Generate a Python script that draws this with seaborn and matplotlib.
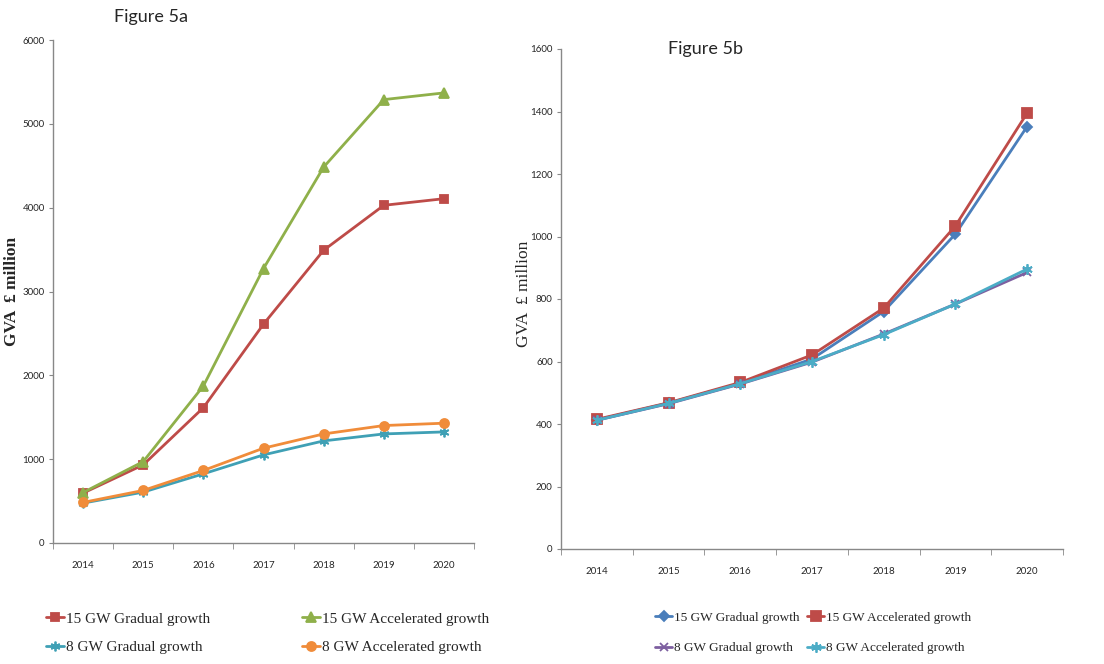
import matplotlib
matplotlib.use("Agg")
import matplotlib.pyplot as plt
import seaborn as sns
import pandas as pd
from matplotlib.ticker import FixedLocator

years = [2014, 2015, 2016, 2017, 2018, 2019, 2020]

# Figure 5a
a_names = ["15 GW Gradual growth", "15 GW Accelerated growth",
           "8 GW Gradual growth", "8 GW Accelerated growth"]
a_15_gradual = [595, 932, 1614, 2611, 3492, 4028, 4107]
a_15_accel = [602, 971, 1873, 3274, 4484, 5289, 5369]
a_8_gradual = [476, 607, 825, 1051, 1218, 1301, 1325]
a_8_accel = [484, 627, 865, 1131, 1301, 1401, 1429]

# Figure 5b
b_names = ["15 GW Gradual growth", "15 GW Accelerated growth",
           "8 GW Gradual growth", "8 GW Accelerated growth"]
b_15_gradual = [413, 467, 530, 608, 760, 1008, 1352]
b_15_accel = [415, 468, 533, 621, 771, 1034, 1395]
b_8_gradual = [412, 465, 528, 598, 688, 784, 885]
b_8_accel = [412, 466, 529, 600, 686, 784, 896]

a_ticks = [0, 1000, 2000, 3000, 4000, 5000, 6000]
b_ticks = [0, 200, 400, 600, 800, 1000, 1200, 1400, 1600]

sns.set_style("white")
plt.rcParams["font.family"] = ["Lato", "DejaVu Sans"]

fig = plt.figure(figsize=(11.04, 6.64), dpi=100)
ax_a = fig.add_axes([53/1104, 121/664, 421/1104, 503/664])
ax_b = fig.add_axes([561/1104, 115/664, 502/1104, 500/664])

star = (6, 2, 0)
cols_a = ["#BE4B48", "#8FB04A", "#3FA0B5", "#F08C3A"]
mks_a = ["s", "^", star, "o"]
ms_a = [6, 7.5, 7, 6.5]
cols_b = ["#4A7EBB", "#BE4B48", "#7D5FA0", "#4BACC6"]
mks_b = ["D", "s", "x", star]
ms_b = [5, 6.5, 6, 7.5]

serif = ["Liberation Serif", "DejaVu Serif"]

def draw(ax, names, series, cols, mks, ms, ticks, ymax, label_weight):
    for n, vals, c, m, s in zip(names, series, cols, mks, ms):
        df = pd.DataFrame({"year": years, "value": vals})
        sns.lineplot(data=df, x="year", y="value", color=c, marker=m,
                     markersize=s, markeredgecolor=c, markerfacecolor=c,
                     markeredgewidth=1.3, linewidth=2.0, ax=ax, label=n)
    ax.set_xlim(2013.5, 2020.5)
    ax.set_ylim(0, ymax)
    ax.set_xticks(years)
    ax.set_xticklabels([str(y) for y in years], fontsize=7)
    ax.xaxis.set_minor_locator(FixedLocator([y - 0.5 for y in years] + [2020.5]))
    ax.tick_params(axis="x", which="major", length=0, pad=13)
    ax.tick_params(axis="x", which="minor", length=4, color="#888888", direction="out")
    ax.set_yticks(ticks)
    ax.set_yticklabels([str(t) for t in ticks], fontsize=7)
    ax.tick_params(axis="y", length=3, color="#888888", direction="out", pad=3)
    ax.tick_params(bottom=True, left=True, which="both")
    for s in ["top", "right"]:
        ax.spines[s].set_visible(False)
    for s in ["left", "bottom"]:
        ax.spines[s].set_color("#888888")
        ax.spines[s].set_linewidth(1.0)
    ax.set_xlabel("")
    ax.set_ylabel("GVA  £ million", family=serif,
                  fontweight=label_weight, fontsize=12.5)
    handles, labels = ax.get_legend_handles_labels()
    if ax.get_legend() is not None:
        ax.get_legend().remove()
    return handles, labels

h_a, l_a = draw(ax_a, a_names, [a_15_gradual, a_15_accel, a_8_gradual, a_8_accel],
                cols_a, mks_a, ms_a, a_ticks, 6000, "bold")
h_b, l_b = draw(ax_b, b_names, [b_15_gradual, b_15_accel, b_8_gradual, b_8_accel],
                cols_b, mks_b, ms_b, b_ticks, 1600, "normal")

ax_a.yaxis.set_label_coords(-0.078, 0.5)
ax_b.yaxis.set_label_coords(-0.058, 0.51)

order = [0, 2, 1, 3]
fig.legend([h_a[i] for i in order], [l_a[i] for i in order], ncol=2,
           loc="center left", bbox_to_anchor=(40/1104, 1 - 633/664),
           prop={"family": serif, "size": 11}, frameon=False,
           handlelength=1.2, handletextpad=0.1,
           columnspacing=6.0, labelspacing=0.95, borderaxespad=0)
fig.legend([h_b[i] for i in order], [l_b[i] for i in order], ncol=2,
           loc="center left", bbox_to_anchor=(650/1104, 1 - 633/664),
           prop={"family": serif, "size": 9.5}, frameon=False,
           handlelength=1.3, handletextpad=0.1,
           columnspacing=0.6, labelspacing=1.35, borderaxespad=0)

fig.text(151/1104, 1 - 17/664, "Figure 5a", ha="center", va="center", fontsize=13)
fig.text(705/1104, 1 - 49/664, "Figure 5b", ha="center", va="center", fontsize=13)

fig.savefig("out.png", dpi=100)
